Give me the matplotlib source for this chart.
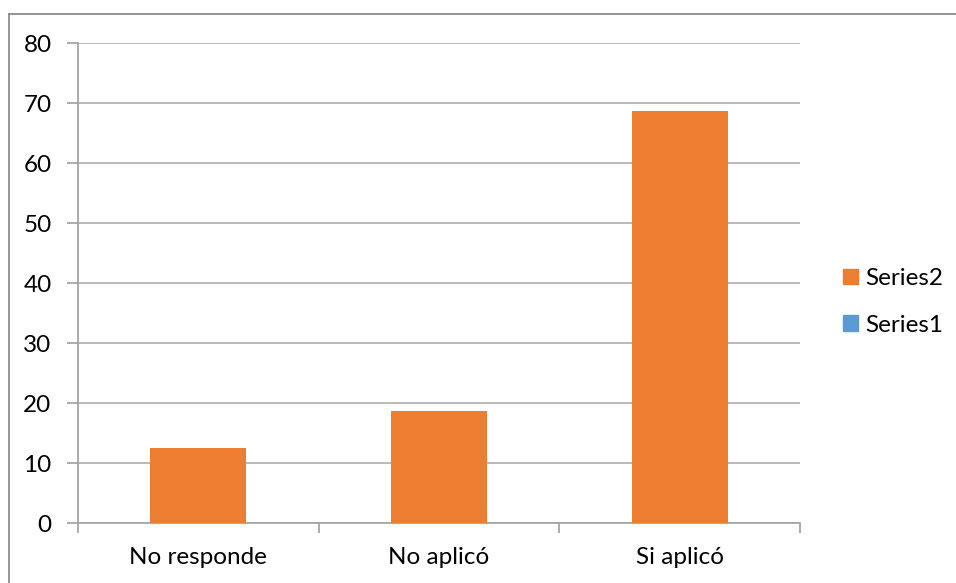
import matplotlib.pyplot as plt
import numpy as np
from matplotlib.lines import Line2D
from matplotlib.patches import Patch

# Data
categories = ['No responde', 'No aplicó', 'Si aplicó']
series1 = [0, 0, 0]
series2 = [12.5, 18.75, 68.75]

plt.rcParams['font.family'] = ['Lato', 'DejaVu Sans']

fig = plt.figure(figsize=(9.56, 5.83), dpi=100)
W, H = 956, 583
ax = fig.add_axes([78 / W, 1 - 523 / H, (800 - 78) / W, (523 - 43) / H])

axis_col = '#a6a6a6'
grid_col = '#b3b3b3'
blue = '#5b9bd5'
orange = '#ed7d31'
fs = 17.5

x = np.arange(len(categories))
ax.bar(x, series1, width=0.4, color=blue, zorder=3)
ax.bar(x, series2, width=0.4, bottom=series1, color=orange, zorder=3)

ax.set_xlim(-0.5, len(categories) - 0.5)
ax.set_ylim(0, 80)
ax.set_yticks(range(0, 81, 10))
ax.yaxis.grid(True, color=grid_col, linewidth=1.3, zorder=0)
ax.set_axisbelow(True)

for s in ['top', 'right']:
    ax.spines[s].set_visible(False)
for s in ['left', 'bottom']:
    ax.spines[s].set_color(axis_col)
    ax.spines[s].set_linewidth(1.3)

ax.tick_params(axis='y', length=8, width=1.3, color=axis_col, labelsize=fs, pad=11)
ax.set_xticks(x)
ax.set_xticklabels(categories)
ax.tick_params(axis='x', which='major', length=0, labelsize=fs, pad=17)
ax.set_xticks(np.arange(-0.5, len(categories), 1.0), minor=True)
ax.tick_params(axis='x', which='minor', length=7, width=1.3, color=axis_col)

# Legend (Series2 listed first, as in a stacked column chart)
handles = [Patch(color=orange), Patch(color=blue)]
fig.legend(handles, ['Series2', 'Series1'], loc='center left',
           bbox_to_anchor=(843 / W, 1 - 302 / H), frameon=False,
           borderpad=0, borderaxespad=0,
           fontsize=fs, handlelength=0.6, handleheight=0.6,
           handletextpad=0.3, labelspacing=1.05)

# Chart area border
fig.add_artist(Line2D([8.5 / W, 8.5 / W], [0, 1 - 13.5 / H], color='#8c8c8c', linewidth=1.3))
fig.add_artist(Line2D([8.5 / W, 1], [1 - 13.5 / H, 1 - 13.5 / H], color='#8c8c8c', linewidth=1.3))

fig.savefig('out.png', dpi=100)
